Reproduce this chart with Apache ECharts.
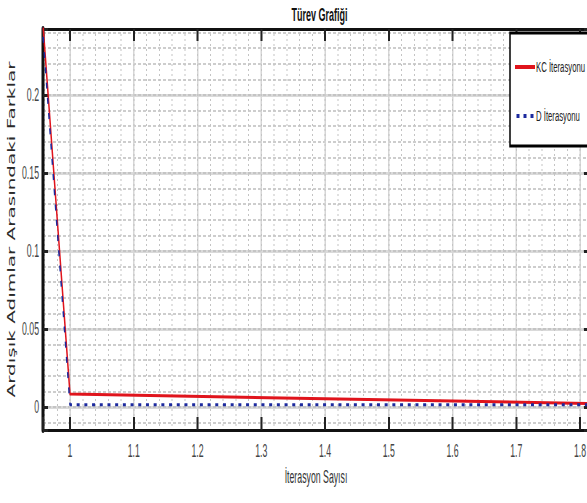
<!DOCTYPE html>
<html>
<head>
<meta charset="utf-8">
<script src="https://cdn.jsdelivr.net/npm/echarts@6/dist/echarts.min.js"></script>
<style>
  html, body { margin: 0; padding: 0; background: #fff; overflow: hidden; }
  #frame { width: 587px; height: 503px; overflow: hidden; position: relative; }
  /* the reference figure is horizontally compressed: draw at double width, squeeze by half */
  #chart { width: 1174px; height: 503px; transform: scaleX(0.5); transform-origin: 0 0; position: absolute; left: 0; top: 0; }
</style>
</head>
<body>
<div id="frame"><div id="chart"></div></div>
<script>
// ---- data ----
const iterations = [0, 1, 2];
const kcValues = [5.6, 0.0083, 0.0009];
const dValues = [5.6, 0.0015, 0.0015];
const seriesNames = ['KC İterasyonu', 'D İterasyonu'];
const xTickLabels = ['1', '1.1', '1.2', '1.3', '1.4', '1.5', '1.6', '1.7', '1.8'];
const yTickLabels = ['0', '0.05', '0.1', '0.15', '0.2'];
const titleText = 'Türev Grafiği';
const xName = 'İterasyon Sayısı';
const yName = 'Ardışık Adımlar Arasındaki Farklar';

// ---- view ranges ----
const xMin = 0.95765, xMax = 1.81412;
const yMin = -0.01474, yMax = 0.24231;

const SANS = '"Liberation Sans", Arial, sans-serif';

function labelFrom(list) {
  return function (v) {
    const s = String(+v.toFixed(4));
    return list.indexOf(s) >= 0 ? s : '';
  };
}

const chart = echarts.init(document.getElementById('chart'), null, { renderer: 'svg' });
chart.setOption({
  backgroundColor: '#ffffff',
  animation: false,
  title: {
    text: titleText,
    left: 578,
    top: 1,
    textStyle: { fontFamily: SANS, fontSize: 18, fontWeight: 'bold', color: '#111' }
  },
  legend: {
    orient: 'vertical',
    left: 1020,
    top: 33,
    padding: [26, 40, 22, 10],
    itemGap: 33,
    itemWidth: 40,
    itemHeight: 4,
    backgroundColor: '#ffffff',
    borderColor: '#000000',
    borderWidth: 3,
    borderRadius: 0,
    textStyle: { fontFamily: SANS, fontSize: 15.5, color: '#222', padding: [0, 0, 0, -3] },
    data: [
      { name: seriesNames[0], icon: 'rect' },
      { name: seriesNames[1], icon: 'path://M0,0h6v4h-6zM14,0h6v4h-6zM28,0h6v4h-6z' }
    ]
  },
  grid: { left: 86, right: -4, top: 29, bottom: 73, containLabel: false, outerBoundsMode: 'none' },
  xAxis: [
    {
      type: 'value', position: 'bottom', min: xMin, max: xMax, splitNumber: 8,
      axisLine: { onZero: false, lineStyle: { color: '#111', width: 3 } },
      axisTick: { inside: true, length: 13, lineStyle: { color: '#222', width: 4 } },
      axisLabel: { formatter: labelFrom(xTickLabels), margin: 12, fontFamily: SANS, fontSize: 17.5, color: '#444' },
      splitLine: { show: true, lineStyle: { color: '#d6d6d6', width: 3 } },
      name: xName, nameLocation: 'middle', nameGap: 38,
      nameTextStyle: { fontFamily: SANS, fontSize: 17.5, color: '#333' }
    },
    {
      type: 'value', position: 'top', min: xMin, max: xMax, splitNumber: 8,
      axisLine: { onZero: false, lineStyle: { color: '#111', width: 3 } },
      axisTick: { inside: true, length: 12, lineStyle: { color: '#222', width: 4 } },
      axisLabel: { show: false },
      splitLine: { show: false }
    },
    {
      type: 'value', position: 'bottom', min: xMin, max: xMax, splitNumber: 43,
      axisLine: { show: false, onZero: false },
      axisTick: { show: false },
      axisLabel: { show: false },
      splitLine: { show: true, lineStyle: { color: '#c4c4c4', width: 2, type: [2, 3] } }
    }
  ],
  yAxis: [
    {
      type: 'value', position: 'left', min: yMin, max: yMax, splitNumber: 5,
      axisLine: { onZero: false, lineStyle: { color: '#111', width: 6 } },
      axisTick: { inside: true, length: 10, lineStyle: { color: '#222', width: 3 } },
      axisLabel: { formatter: labelFrom(yTickLabels), margin: 8, fontFamily: SANS, fontSize: 17.5, color: '#444' },
      splitLine: { show: true, lineStyle: { color: '#dadada', width: 3 } },
      name: yName, nameLocation: 'middle', nameRotate: 90, nameGap: 38,
      nameTextStyle: { fontFamily: '"DejaVu Sans", sans-serif', fontSize: 20, color: '#2a2a2a' }
    },
    {
      type: 'value', position: 'right', min: yMin, max: yMax, splitNumber: 5,
      axisLine: { onZero: false, lineStyle: { color: '#111', width: 6 } },
      axisTick: { inside: true, length: 10, lineStyle: { color: '#222', width: 3 } },
      axisLabel: { show: false },
      splitLine: { show: false }
    },
    {
      type: 'value', position: 'left', min: yMin, max: yMax, splitNumber: 26,
      axisLine: { show: false, onZero: false },
      axisTick: { show: false },
      axisLabel: { show: false },
      splitLine: { show: true, lineStyle: { color: '#bdbdbd', width: 1.5, type: [6, 4] } }
    }
  ],
  series: [
    {
      name: seriesNames[0], type: 'line', xAxisIndex: 0, yAxisIndex: 0,
      data: iterations.map((x, i) => [x, kcValues[i]]),
      symbol: 'none', clip: true, z: 3,
      lineStyle: { color: '#e0141c', width: 3 },
      itemStyle: { color: '#e0141c' }
    },
    {
      name: seriesNames[1], type: 'line', xAxisIndex: 0, yAxisIndex: 0,
      data: iterations.map((x, i) => [x, dValues[i]]),
      symbol: 'none', clip: true, z: 4,
      lineStyle: { color: '#1c2a9e', width: 3, type: [6, 9.4], cap: 'butt' },
      itemStyle: { color: '#1c2a9e' }
    }
  ]
});
</script>
</body>
</html>
